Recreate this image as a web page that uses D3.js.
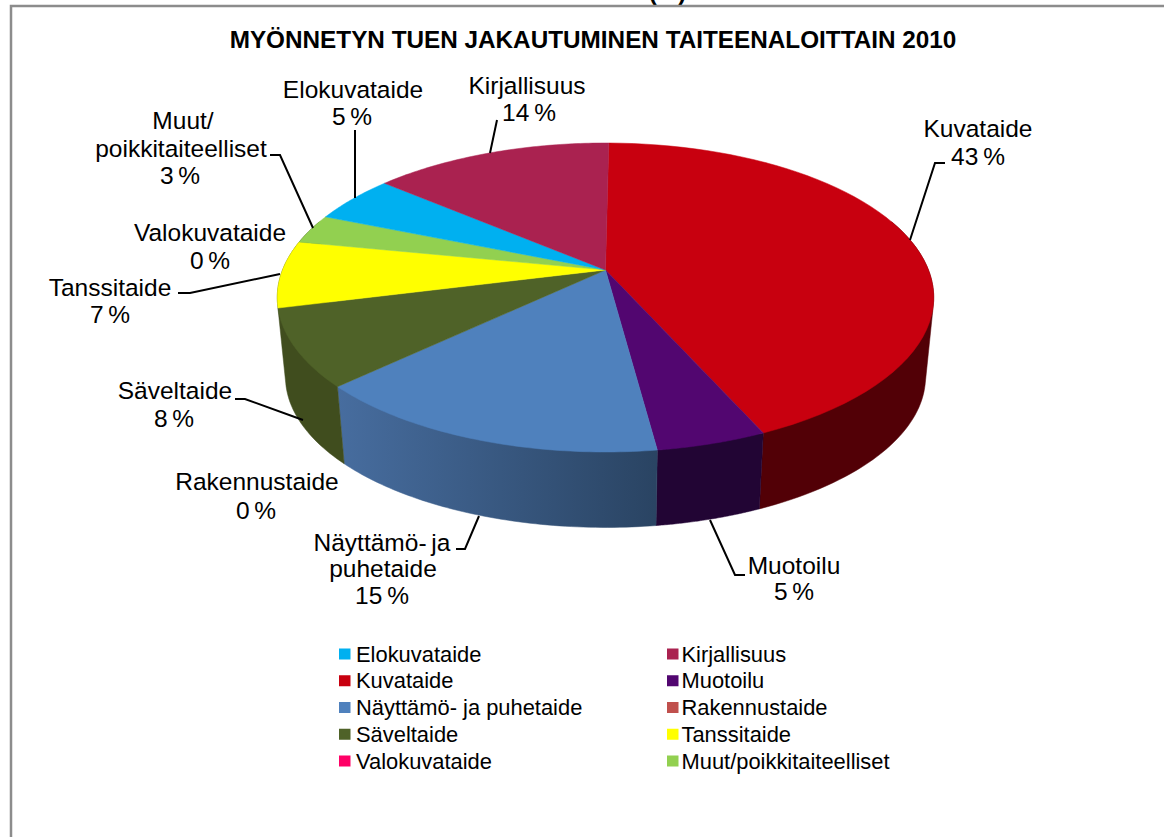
<!DOCTYPE html>
<html lang="fi">
<head>
<meta charset="utf-8">
<script src="https://d3js.org/d3.v7.min.js"></script>
<style>
  html, body { margin: 0; background: #fff; }
  svg { display: block; }
  text { font-family: "Liberation Sans", Arial, sans-serif; fill: #000; }
</style>
</head>
<body>
<svg width="1164" height="837"></svg>
<script>
// data, in the order the pie goes round (shares estimated from the slice edges, labels show them rounded)
const categories = ["Kuvataide", "Muotoilu", "Näyttämö- ja puhetaide", "Rakennustaide", "Säveltaide",
  "Tanssitaide", "Valokuvataide", "Muut/poikkitaiteelliset", "Elokuvataide", "Kirjallisuus"];
const shares = [43.1, 4.6, 15.1, 0, 8.1, 7.0, 0, 3.1, 5.0, 14.0];
const legendOrder = ["Elokuvataide", "Kirjallisuus", "Kuvataide", "Muotoilu", "Näyttämö- ja puhetaide",
  "Rakennustaide", "Säveltaide", "Tanssitaide", "Valokuvataide", "Muut/poikkitaiteelliset"];
const topColors = ["#c8000f", "#520670", "#4f81bd", "#c0504d", "#4f6228",
  "#ffff00", "#ff0066", "#92d050", "#00b0f0", "#aa2250"];
const wallColors = ["#520006", "#220534", "#3a5a85", "#5f2826", "#404d1e"];

var svg = d3.select("svg");

// bit of the heading above, cut off at the page edge
svg.append("text").attr("x", 667.5).attr("y", 0).attr("text-anchor", "middle")
  .style("font-size", "24px").style("font-weight", "bold").text("(%)");

// chart frame
svg.append("path").attr("d", "M11,837V6H1164").attr("fill", "none")
  .attr("stroke", "#8c8c8c").attr("stroke-width", 2.5);

svg.append("text").attr("x", 593).attr("y", 48).attr("text-anchor", "middle")
  .style("font-size", "24.3px").style("font-weight", "bold")
  .text("MYÖNNETYN TUEN JAKAUTUMINEN TAITEENALOITTAIN 2010");

// pie is a tilted disc seen in perspective
var cx = 605.5, cy = 270, k = 0.178, rX = 323, rY = 149.6;
var wallScale = 0.975, wallDrop = 80;

function rim(a) {
  var u = Math.sin(a), v = Math.cos(a), w = 1 + k * v;
  return [cx + rX * u / w, cy - rY * v / w];
}
function rimLow(a) {
  var p = rim(a);
  return [cx + (p[0] - cx) * wallScale, cy + (p[1] - cy) * wallScale + wallDrop];
}
function arcPoints(fn, a0, a1) {
  return d3.range(0, 61).map(function (i) { return fn(a0 + (a1 - a0) * i / 60); });
}

var startAngle = 0.012;
var slices = d3.pie().sort(null).startAngle(startAngle).endAngle(startAngle + 2 * Math.PI)(shares)
  .map(function (d, i) { d.i = i; return d; });
var line = d3.line();

var defs = svg.append("defs");
var wallGrad = defs.append("linearGradient").attr("id", "blueWall")
  .attr("gradientUnits", "userSpaceOnUse").attr("x1", 337).attr("x2", 655).attr("y1", 0).attr("y2", 0);
wallGrad.append("stop").attr("offset", 0).attr("stop-color", "#476d9f");
wallGrad.append("stop").attr("offset", 1).attr("stop-color", "#2a4463");

// side walls only run round the front; the last one (Säveltaide) carries on to the left edge.
// hull gives the straight silhouette between top and bottom rim at both ends
var wallFrom = 70 * Math.PI / 180, wallTo = 290 * Math.PI / 180, lastWall = 4;
svg.append("g").selectAll("path")
  .data(slices.filter(function (d) { return d.value > 0 && d.i <= lastWall; }))
  .enter().append("path")
  .attr("d", function (d) {
    var a0 = Math.max(d.startAngle, wallFrom), a1 = d.i == lastWall ? wallTo : d.endAngle;
    return line(d3.polygonHull(arcPoints(rim, a0, a1).concat(arcPoints(rimLow, a0, a1)))) + "Z";
  })
  .attr("fill", function (d) { return d.i == 2 ? "url(#blueWall)" : wallColors[d.i]; })
  .attr("stroke", function (d) { return d.i == 2 ? "url(#blueWall)" : wallColors[d.i]; })
  .attr("stroke-width", 0.5);

// top faces
svg.append("g").selectAll("path")
  .data(slices.filter(function (d) { return d.value > 0; }))
  .enter().append("path")
  .attr("d", function (d) {
    return line([[cx, cy]].concat(arcPoints(rim, d.startAngle, d.endAngle))) + "Z";
  })
  .attr("fill", function (d) { return topColors[d.i]; })
  .attr("stroke", function (d) { return topColors[d.i]; })
  .attr("stroke-width", 0.5);

// label places, same order as categories; name is split where the picture splits it
var labelLines = [["Kuvataide"], ["Muotoilu"], ["Näyttämö- ja", "puhetaide"], ["Rakennustaide"], ["Säveltaide"],
  ["Tanssitaide"], ["Valokuvataide"], ["Muut/", "poikkitaiteelliset"], ["Elokuvataide"], ["Kirjallisuus"]];
var labelX = [[978, 978], [794, 794], [382, 383, 382], [257, 256], [175, 174], [110, 110], [210, 210],
  [183, 181, 180], [353, 352], [527, 529]];
var labelY = [[137, 165], [574, 600], [551, 577, 604], [490, 519], [399, 427],
  [296, 323], [241, 269], [129, 157, 184], [98, 125], [94, 121]];

var labelText = svg.append("g").style("font-size", "24.5px").style("word-spacing", "-2px")
  .attr("text-anchor", "middle");
slices.forEach(function (d) {
  labelLines[d.i].concat(Math.round(d.value) + " %").forEach(function (t, j) {
    labelText.append("text").attr("x", labelX[d.i][j]).attr("y", labelY[d.i][j]).text(t);
  });
});

// leader lines
var leaders = [
  [[497, 120], [490, 153]],
  [[945, 163], [935, 163], [910, 240]],
  [[355, 130], [355, 198]],
  [[270, 155], [280, 155], [313, 228]],
  [[178, 293], [190, 293], [280, 274]],
  [[235, 399], [245, 399], [303, 420]],
  [[456, 549], [465, 549], [479, 516]],
  [[745, 575], [735, 575], [710, 520]]
];
svg.append("g").selectAll("path").data(leaders).enter().append("path")
  .attr("d", line).attr("fill", "none").attr("stroke", "#000").attr("stroke-width", 2);

// legend, two columns
var legendCol = d3.scaleOrdinal().domain([0, 1]).range([339, 667]);
var legendRow = d3.scaleLinear().domain([0, 4]).range([654, 761]);
var legend = svg.append("g").selectAll("g").data(legendOrder).enter().append("g")
  .attr("transform", function (d, i) {
    return "translate(" + legendCol(i % 2) + "," + legendRow(Math.floor(i / 2)) + ")";
  });
legend.append("rect").attr("x", 0).attr("y", -5.5).attr("width", 11.5).attr("height", 11)
  .attr("fill", function (d) { return topColors[categories.indexOf(d)]; });
legend.append("text").attr("x", function (d, i) { return i % 2 ? 14.5 : 17; }).attr("y", 7.5).style("font-size", "21.9px")
  .text(function (d) { return d; });
</script>
</body>
</html>
